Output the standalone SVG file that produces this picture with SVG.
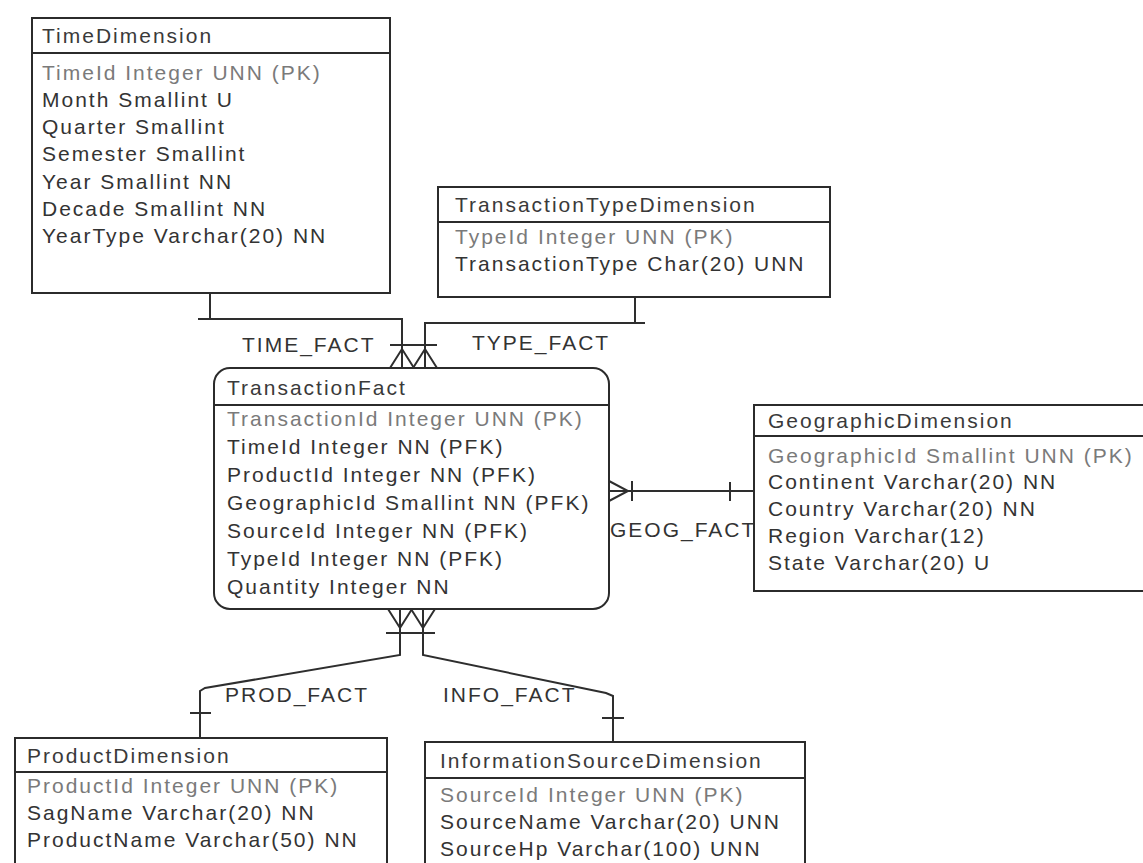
<svg xmlns="http://www.w3.org/2000/svg" width="1143" height="863" viewBox="0 0 1143 863">
  <style>
    .box { fill: #ffffff; stroke: #2b2b2b; stroke-width: 2; }
    .sep { stroke: #2b2b2b; stroke-width: 2; }
    .title { font-family: "Liberation Sans", Arial, sans-serif; font-size: 21px; letter-spacing: 2px; fill: #3a3a3a; }
    .pk { font-family: "Liberation Sans", Arial, sans-serif; font-size: 21px; letter-spacing: 2px; fill: #7a7a7a; }
    .col { font-family: "Liberation Sans", Arial, sans-serif; font-size: 21px; letter-spacing: 2px; fill: #333333; }
    .rel { font-family: "Liberation Sans", Arial, sans-serif; font-size: 21px; letter-spacing: 2px; fill: #333333; }
    .conn { fill: none; stroke: #2e2e2e; stroke-width: 2; }
  </style>

  <rect x="0" y="0" width="1143" height="863" fill="#ffffff"/>

  <!-- connectors -->
  <g id="connectors" class="conn">
    <!-- TIME_FACT -->
    <polyline points="210,293 210,319"/>
    <polyline points="198,319 402,319 402,368"/>
    <line x1="390" y1="345" x2="414" y2="345"/>
    <polyline points="390,368 402,349 414,368"/>

    <!-- TYPE_FACT -->
    <polyline points="635,297 635,323"/>
    <polyline points="645,323 425,323 425,368"/>
    <line x1="412" y1="345" x2="437" y2="345"/>
    <polyline points="413,368 425,349 437,368"/>

    <!-- GEOG_FACT -->
    <line x1="608" y1="491" x2="754" y2="491"/>
    <line x1="730" y1="482" x2="730" y2="501"/>
    <line x1="632" y1="481" x2="632" y2="501"/>
    <polyline points="609,481 628,491 609,501"/>

    <!-- PROD_FACT -->
    <polyline points="400,609 400,655 205,688 200,691 200,738"/>
    <line x1="386" y1="633" x2="412" y2="633"/>
    <polyline points="388,609 400,628 412,609"/>
    <line x1="190" y1="713" x2="211" y2="713"/>

    <!-- INFO_FACT -->
    <polyline points="423,609 423,655 606,693 613,696 613,742"/>
    <line x1="412" y1="633" x2="435" y2="633"/>
    <polyline points="411,609 423,628 435,609"/>
    <line x1="602" y1="718" x2="624" y2="718"/>
  </g>

  <!-- relationship labels -->
  <g id="labels">
    <text class="rel" x="242" y="352">TIME_FACT</text>
    <text class="rel" x="472" y="350">TYPE_FACT</text>
    <text class="rel" x="610" y="537">GEOG_FACT</text>
    <text class="rel" x="225" y="702">PROD_FACT</text>
    <text class="rel" x="443" y="702">INFO_FACT</text>
  </g>

  <!-- TimeDimension -->
  <g id="TimeDimension">
    <rect class="box" x="32" y="18" width="358" height="275"/>
    <line class="sep" x1="32" y1="53" x2="390" y2="53"/>
    <text class="title" x="42" y="43">TimeDimension</text>
    <text class="pk" x="42" y="80">TimeId Integer UNN (PK)</text>
    <text class="col" x="42" y="107">Month Smallint U</text>
    <text class="col" x="42" y="134">Quarter Smallint</text>
    <text class="col" x="42" y="161">Semester Smallint</text>
    <text class="col" x="42" y="189">Year Smallint NN</text>
    <text class="col" x="42" y="216">Decade Smallint NN</text>
    <text class="col" x="42" y="243">YearType Varchar(20) NN</text>
  </g>

  <!-- TransactionTypeDimension -->
  <g id="TransactionTypeDimension">
    <rect class="box" x="438" y="187" width="392" height="110"/>
    <line class="sep" x1="438" y1="222" x2="830" y2="222"/>
    <text class="title" x="455" y="212">TransactionTypeDimension</text>
    <text class="pk" x="455" y="244">TypeId Integer UNN (PK)</text>
    <text class="col" x="455" y="271">TransactionType Char(20) UNN</text>
  </g>

  <!-- TransactionFact -->
  <g id="TransactionFact">
    <rect class="box" x="214" y="368" width="395" height="241" rx="16" ry="16"/>
    <line class="sep" x1="214" y1="405" x2="609" y2="405"/>
    <text class="title" x="227" y="395">TransactionFact</text>
    <text class="pk" x="227" y="426">TransactionId Integer UNN (PK)</text>
    <text class="col" x="227" y="454">TimeId Integer NN (PFK)</text>
    <text class="col" x="227" y="482">ProductId Integer NN (PFK)</text>
    <text class="col" x="227" y="510">GeographicId Smallint NN (PFK)</text>
    <text class="col" x="227" y="538">SourceId Integer NN (PFK)</text>
    <text class="col" x="227" y="566">TypeId Integer NN (PFK)</text>
    <text class="col" x="227" y="594">Quantity Integer NN</text>
  </g>

  <!-- GeographicDimension -->
  <g id="GeographicDimension">
    <rect class="box" x="754" y="405" width="420" height="186"/>
    <line class="sep" x1="754" y1="436" x2="1174" y2="436"/>
    <text class="title" x="768" y="428">GeographicDimension</text>
    <text class="pk" x="768" y="463">GeographicId Smallint UNN (PK)</text>
    <text class="col" x="768" y="489">Continent Varchar(20) NN</text>
    <text class="col" x="768" y="516">Country Varchar(20) NN</text>
    <text class="col" x="768" y="543">Region Varchar(12)</text>
    <text class="col" x="768" y="570">State Varchar(20) U</text>
  </g>

  <!-- ProductDimension -->
  <g id="ProductDimension">
    <rect class="box" x="15" y="738" width="372" height="140"/>
    <line class="sep" x1="15" y1="772" x2="387" y2="772"/>
    <text class="title" x="27" y="763">ProductDimension</text>
    <text class="pk" x="27" y="793">ProductId Integer UNN (PK)</text>
    <text class="col" x="27" y="820">SagName Varchar(20) NN</text>
    <text class="col" x="27" y="847">ProductName Varchar(50) NN</text>
  </g>

  <!-- InformationSourceDimension -->
  <g id="InformationSourceDimension">
    <rect class="box" x="425" y="742" width="380" height="140"/>
    <line class="sep" x1="425" y1="778" x2="805" y2="778"/>
    <text class="title" x="440" y="768">InformationSourceDimension</text>
    <text class="pk" x="440" y="802">SourceId Integer UNN (PK)</text>
    <text class="col" x="440" y="829">SourceName Varchar(20) UNN</text>
    <text class="col" x="440" y="856">SourceHp Varchar(100) UNN</text>
  </g>
</svg>
